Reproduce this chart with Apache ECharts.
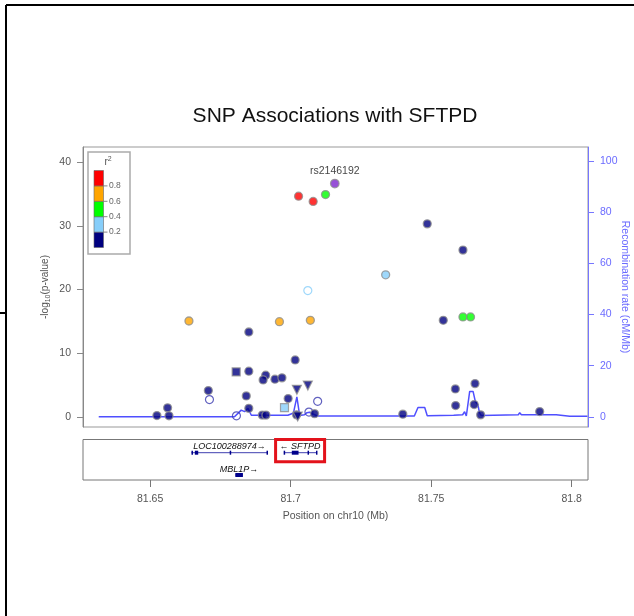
<!DOCTYPE html>
<html><head><meta charset="utf-8">
<script src="https://cdn.jsdelivr.net/npm/echarts@6/dist/echarts.min.js"></script>
<style>html,body{margin:0;padding:0;background:#fff}#c{width:634px;height:616px}</style>
</head><body><div id="c"></div>
<script>
// ---------------- data ----------------
const chartTitle = 'SNP Associations with SFTPD';
const leadSnp = 'rs2146192';
const xAxisTitle = 'Position on chr10 (Mb)';
const recombTitle = 'Recombination rate (cM/Mb)';

// SNP positions (Mb), -log10(p), r2 with lead SNP (1 = lead), marker shape
const snpPos  = [81.7157, 81.7028, 81.7080, 81.7124, 81.7061, 81.7486, 81.7613, 81.7338,
                 81.6638, 81.6960, 81.7070, 81.6851, 81.7016, 81.6806, 81.6851, 81.6911,
                 81.6902, 81.6944, 81.6969, 81.6707, 81.6711, 81.6842, 81.6991, 81.7022,
                 81.7061, 81.7096, 81.6978, 81.6562, 81.6524, 81.6567, 81.6807, 81.6851,
                 81.6899, 81.6912, 81.7021, 81.7065, 81.7085, 81.7543, 81.7613, 81.7640,
                 81.7586, 81.7656, 81.7587, 81.7653, 81.7399, 81.7676, 81.7886, 81.7025];
const snpLogP = [36.66, 34.67, 33.84, 34.93, 19.84, 30.32, 26.20, 22.32,
                 15.06, 14.95, 15.17, 13.33, 8.94, 7.06, 7.17, 6.54,
                 5.80, 5.91, 6.12, 4.13, 2.71, 3.29, 2.87, 4.24,
                 4.91, 2.43, 1.44, 1.41, 0.20, 0.16, 0.16, 1.33,
                 0.27, 0.27, 0.31, 0.74, 0.50, 15.17, 15.69, 15.69,
                 4.39, 5.22, 1.77, 1.93, 0.42, 0.31, 0.83, 0.05];
const snpR2   = [1.0, 0.9, 0.9, 0.5, 0.3, 0.1, 0.1, 0.3,
                 0.7, 0.7, 0.7, 0.1, 0.1, 0.1, 0.1, 0.1,
                 0.1, 0.1, 0.1, 0.1, 0.1, 0.1, 0.1, 0.1,
                 0.1, 0.1, 0.3, 0.1, 0.1, 0.1, 0.1, 0.1,
                 0.1, 0.1, 0.1, 0.1, 0.1, 0.1, 0.5, 0.5,
                 0.1, 0.1, 0.1, 0.1, 0.1, 0.1, 0.1, 0.1];
const snpShape = ['circle','circle','circle','circle','open','circle','circle','circle',
                  'circle','circle','circle','circle','circle','square','circle','circle',
                  'circle','circle','circle','circle','open','circle','circle','triangle',
                  'triangle','open','square','circle','circle','circle','open','circle',
                  'circle','circle','circle','open','circle','circle','circle','circle',
                  'circle','circle','circle','circle','circle','circle','circle','triangle'];

// recombination rate (cM/Mb)
const recombPos  = [81.6317, 81.6800, 81.6806, 81.6824, 81.6836, 81.6848, 81.6854, 81.6860,
                    81.6990, 81.7010, 81.7022, 81.7032, 81.7049, 81.7058, 81.7067, 81.7078,
                    81.7085, 81.7095, 81.7440, 81.7453, 81.7477, 81.7486, 81.7580, 81.7612,
                    81.7619, 81.7625, 81.7637, 81.7649, 81.7657, 81.7666, 81.7672, 81.7678,
                    81.7810, 81.7815, 81.7821, 81.7945, 81.7993, 81.8056];
const recombRate = [0, 0, 0.2, 2.6, 2.0, 3.3, 4.0, 0.6,
                    0.6, 1.5, 7.8, 0.5, 0.8, 1.6, 1.8, 1.2,
                    1.6, 0.3, 0.3, 3.6, 3.6, 0.4, 0.6, 0.8,
                    2.0, 0.3, 9.9, 9.9, 6.0, 4.8, 1.5, 0.5,
                    0.8, 1.6, 0.8, 0.8, 0.2, 0.2];

// genes
const geneNames  = ['LOC100288974', 'SFTPD', 'MBL1P'];
const geneStrand = ['+', '-', '+'];
const geneStart  = [81.6647, 81.6976, 81.6803];
const geneEnd    = [81.6918, 81.7091, 81.6830];
const geneRow    = [0, 0, 1];
const exonGene   = [0, 0, 0, 0, 1, 1, 1, 1, 2];
const exonStart  = [81.6647, 81.6659, 81.6783, 81.6914, 81.6975, 81.7004, 81.7060, 81.7090, 81.6803];
const exonEnd    = [81.6650, 81.6671, 81.6785, 81.6918, 81.6978, 81.7028, 81.7063, 81.7093, 81.6830];
const highlightGene = 'SFTPD';

// axes / ticks
const xMin = 81.6261, xMax = 81.8058;
const xTicks = [81.65, 81.70, 81.75, 81.80];
const yTicks = [0, 10, 20, 30, 40];
const recombTicks = [0, 20, 40, 60, 80, 100];
const r2Breaks = [0.2, 0.4, 0.6, 0.8];
const r2Colors = ['#000080', '#87CEFA', '#00FF00', '#FFA500', '#FF0000'];
const leadColor = '#7D26CD';

// ---------------- chart ----------------
const FONT = '"Liberation Sans", Arial, sans-serif';
function r2Color(r) {
  if (r >= 1) return leadColor;
  let i = 0;
  while (i < r2Breaks.length && r > r2Breaks[i]) i++;
  return r2Colors[i];
}
const RING = '#8e8e8e';
const snpData = snpPos.map((x, i) => {
  const c = r2Color(snpR2[i]);
  const shp = snpShape[i];
  const item = { value: [x, snpLogP[i]] };
  if (shp === 'open') {
    item.symbol = 'circle';
    item.symbolSize = 8;
    item.itemStyle = { color: 'rgba(255,255,255,0)', borderColor: c === '#000080' ? '#3b3bb0' : c, borderWidth: 1.2 };
  } else if (shp === 'triangle') {
    item.symbol = 'triangle';
    item.symbolRotate = 180;
    item.symbolSize = 9;
    item.itemStyle = { color: c, borderColor: RING, borderWidth: 1.2 };
  } else if (shp === 'square') {
    item.symbol = 'rect';
    item.symbolSize = 8;
    item.itemStyle = { color: c, borderColor: RING, borderWidth: 1.2 };
  } else {
    item.symbol = 'circle';
    item.symbolSize = snpR2[i] >= 1 ? 8.5 : 8;
    item.itemStyle = { color: c, borderColor: RING, borderWidth: 1.3 };
  }
  if (snpR2[i] >= 1) {
    item.label = { show: true, formatter: leadSnp, position: 'top', offset: [0, 3],
      color: '#111', fontSize: 10.5, fontFamily: FONT };
  }
  return item;
});
const recombData = recombPos.map((x, i) => [x, recombRate[i]]);
const geneData = geneNames.map((n, i) => [geneStart[i], geneEnd[i], geneRow[i], i]);
const exonData = exonStart.map((s, i) => [s, exonEnd[i], geneRow[exonGene[i]]]);
const hiIdx = geneNames.indexOf(highlightGene);
const highlightData = [[geneStart[hiIdx], geneEnd[hiIdx], geneRow[hiIdx]]];

// legend graphic
const legX = 88, legY = 152;
const legendChildren = [
  { type: 'rect', shape: { x: legX, y: legY, width: 42, height: 102 },
    style: { fill: '#fff', stroke: '#aaa', lineWidth: 1.5 } },
  { type: 'text', style: { x: legX + 20, y: legY + 10, text: 'r{s|2}', textAlign: 'center', textVerticalAlign: 'middle',
      font: '10px ' + FONT, fill: '#555', rich: { s: { fontSize: 7, verticalAlign: 'top', fill: '#555', padding: [0,0,6,0] } } } }
];
for (let k = 0; k < r2Colors.length; k++) {
  const top = legY + 18.5 + (r2Colors.length - 1 - k) * 15.4;
  legendChildren.push({ type: 'rect', shape: { x: legX + 6, y: top, width: 9.5, height: 15.4 },
    style: { fill: r2Colors[k], stroke: '#666', lineWidth: 0.6 } });
}
r2Breaks.forEach((b, k) => {
  const yy = legY + 18.5 + (r2Colors.length - 1 - k) * 15.4;
  legendChildren.push({ type: 'line', shape: { x1: legX + 15.5, y1: yy, x2: legX + 19.5, y2: yy },
    style: { stroke: '#888', lineWidth: 1 } });
  legendChildren.push({ type: 'text', style: { x: legX + 21, y: yy, text: b.toFixed(1), textVerticalAlign: 'middle',
    font: '8.5px ' + FONT, fill: '#666' } });
});

const chart = echarts.init(document.getElementById('c'), null, { renderer: 'canvas' });
chart.setOption({
  animation: false,
  backgroundColor: '#fff',
  graphic: [
    { type: 'line', shape: { x1: 6, y1: 5, x2: 634, y2: 5 }, style: { stroke: '#000', lineWidth: 2 } },
    { type: 'line', shape: { x1: 6, y1: 5, x2: 6, y2: 616 }, style: { stroke: '#000', lineWidth: 2 } },
    { type: 'line', shape: { x1: 0, y1: 313, x2: 6, y2: 313 }, style: { stroke: '#000', lineWidth: 2 } },
    { type: 'text', style: { x: 335, y: 116, text: chartTitle, textAlign: 'center', textVerticalAlign: 'middle',
      font: '21px ' + FONT, fill: '#111' } },
    { type: 'group', children: legendChildren, z: 100 }
  ],
  grid: [
    { left: 83, width: 505, top: 147, height: 280, show: true, borderColor: '#999', borderWidth: 1,
      containLabel: false, outerBoundsMode: 'none' },
    { left: 83, width: 505, top: 439.5, height: 40.5, show: true, borderColor: '#777', borderWidth: 1,
      containLabel: false, outerBoundsMode: 'none' }
  ],
  xAxis: [
    { type: 'value', gridIndex: 0, min: xMin, max: xMax, axisLine: { show: false, onZero: false }, axisTick: { show: false },
      axisLabel: { show: false }, splitLine: { show: false } },
    { type: 'value', gridIndex: 1, min: xMin, max: xMax, position: 'bottom',
      axisLine: { show: false, onZero: false },
      axisTick: { show: true, length: 7, customValues: xTicks, lineStyle: { color: '#777' } },
      axisLabel: { show: true, customValues: xTicks, margin: 14, color: '#555', fontSize: 10.5, fontFamily: FONT,
        formatter: v => String(parseFloat(v.toFixed(2))) },
      splitLine: { show: false },
      name: xAxisTitle, nameLocation: 'middle', nameGap: 31,
      nameTextStyle: { color: '#555', fontSize: 10.5, fontFamily: FONT } }
  ],
  yAxis: [
    { type: 'value', gridIndex: 0, min: -1.6, max: 42.4, position: 'left',
      axisLine: { show: true, onZero: false, lineStyle: { color: '#888' } },
      axisTick: { show: true, length: 6, customValues: yTicks, lineStyle: { color: '#888' } },
      axisLabel: { customValues: yTicks, margin: 12, color: '#555', fontSize: 10.5, fontFamily: FONT },
      splitLine: { show: false },
      name: '-log{s|10}(p-value)', nameLocation: 'middle', nameGap: 31, nameMoveOverlap: false,
      nameTextStyle: { color: '#555', fontSize: 10, fontFamily: FONT,
        rich: { s: { fontSize: 7, color: '#555', fontFamily: FONT, padding: [6, 0, 0, 0] } } } },
    { type: 'value', gridIndex: 0, min: -4, max: 105.5, position: 'right',
      axisLine: { show: true, onZero: false, lineStyle: { color: '#7777ff' } },
      axisTick: { show: true, length: 6, customValues: recombTicks, lineStyle: { color: '#7777ff' } },
      axisLabel: { customValues: recombTicks, margin: 12, color: '#6b6bff', fontSize: 10.5, fontFamily: FONT },
      splitLine: { show: false },
      name: recombTitle, nameLocation: 'middle', nameGap: 31, nameRotate: -90, nameMoveOverlap: false,
      nameTextStyle: { color: '#6b6bff', fontSize: 10.5, fontFamily: FONT } },
    { type: 'value', gridIndex: 1, min: -0.592, max: 1.224, inverse: true, show: false }
  ],
  series: [
    { type: 'line', name: 'recomb', xAxisIndex: 0, yAxisIndex: 1, data: recombData, showSymbol: false,
      lineStyle: { color: '#4f4fff', width: 1.5 }, z: 2, silent: true },
    { type: 'scatter', name: 'snps', xAxisIndex: 0, yAxisIndex: 0, data: snpData, z: 5 },
    { type: 'custom', name: 'genes', xAxisIndex: 1, yAxisIndex: 2, data: geneData, z: 3,
      renderItem: (params, api) => {
        const s = api.coord([api.value(0), api.value(2)]);
        const e = api.coord([api.value(1), api.value(2)]);
        const idx = api.value(3);
        const label = geneStrand[idx] === '+' ? geneNames[idx] + '\u2192' : '\u2190 ' + geneNames[idx];
        return { type: 'group', children: [
          { type: 'line', shape: { x1: s[0], y1: s[1], x2: e[0], y2: e[1] }, style: { stroke: '#4040b0', lineWidth: 1 } },
          { type: 'text', style: { x: (s[0] + e[0]) / 2, y: s[1] - 6, text: label, textAlign: 'center',
            textVerticalAlign: 'middle', font: 'italic 9px ' + FONT, fill: '#111' } }
        ] };
      } },
    { type: 'custom', name: 'exons', xAxisIndex: 1, yAxisIndex: 2, data: exonData, z: 4,
      renderItem: (params, api) => {
        const s = api.coord([api.value(0), api.value(2)]);
        const e = api.coord([api.value(1), api.value(2)]);
        const w = Math.max(e[0] - s[0], 1.5);
        return { type: 'rect', shape: { x: s[0], y: s[1] - 2, width: w, height: 4 }, style: { fill: '#00008b' } };
      } },
    { type: 'custom', name: 'highlight', xAxisIndex: 1, yAxisIndex: 2, data: highlightData, z: 6,
      renderItem: (params, api) => {
        const s = api.coord([api.value(0), api.value(2)]);
        const e = api.coord([api.value(1), api.value(2)]);
        const cx = (s[0] + e[0]) / 2;
        const top = params.coordSys.y;
        return { type: 'rect', shape: { x: cx - 24.5, y: top, width: 49, height: s[1] + 9 - top },
          style: { fill: 'none', stroke: '#e3121b', lineWidth: 3 } };
      } }
  ]
});
</script>
</body></html>
